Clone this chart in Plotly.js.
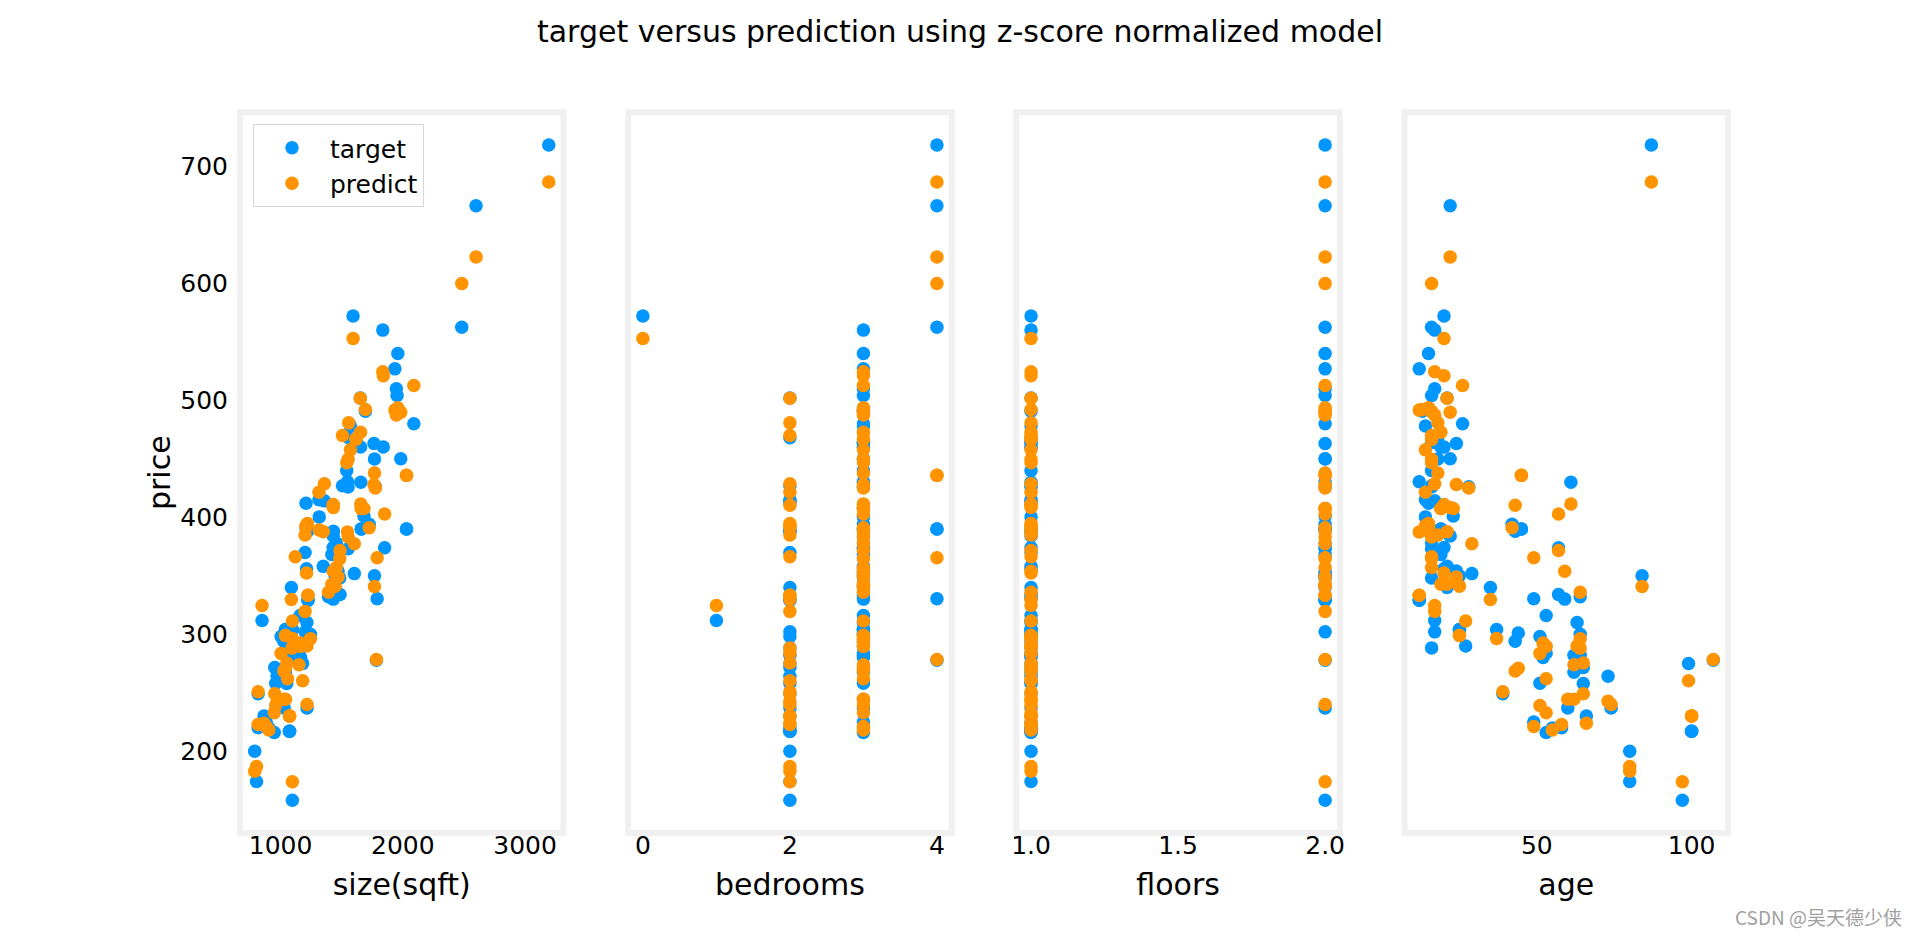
<!DOCTYPE html>
<html>
<head>
<meta charset="utf-8">
<script src="https://cdn.plot.ly/plotly-3.0.1.min.js"></script>
<style>html,body{margin:0;padding:0;background:#fff;}#chart{width:1920px;height:936px;}</style>
</head>
<body>
<div id="chart"></div>
<script>
const size = [952,1244,1947,1725,1959,1314,864,1836,1026,3194,
788,1200,1557,1430,1220,1092,848,1682,1768,1040,
1652,1088,1316,1593,972,1097,1004,904,1694,1073,
1419,1164,1935,1216,2482,1200,1840,1851,1660,1096,
1775,2030,1784,1073,1552,1953,1224,1616,816,1349,
1571,1486,1506,1097,1764,1208,1470,1768,1654,1029,
1120,1150,816,1040,1392,1603,1215,1073,2599,1431,
2090,1790,1484,1040,1431,1159,1547,1983,1056,1180,
1358,960,1456,1446,1208,1553,882,2030,1040,1616,
803,1430,1656,1541,948,1224,1432,1660,1212,1050];
const bedrooms = [2,3,3,3,3,2,2,3,3,4,
2,2,2,3,2,2,1,3,3,3,
2,2,3,0,2,3,2,3,3,2,
3,3,3,2,4,2,3,3,3,2,
3,4,4,2,3,3,2,3,2,3,
3,3,2,3,3,2,3,3,3,3,
2,3,2,3,3,3,3,2,4,3,
3,4,3,3,3,3,3,3,3,2,
2,3,3,3,2,3,3,4,3,3,
2,3,3,3,3,2,2,3,3,2];
const floors = [1,1,2,2,2,1,1,1,1,2,
1,2,1,1,1,1,1,2,2,1,
1,1,1,1,1,1,1,1,1,1,
2,1,2,2,2,1,1,2,2,2,
2,2,2,1,1,2,2,1,1,1,
1,1,1,1,2,1,2,2,1,1,
1,1,1,1,1,2,1,1,2,1,
2,2,2,1,1,1,2,2,1,1,
1,1,2,2,1,2,1,2,1,1,
1,2,1,1,1,2,1,2,1,1];
const age = [65,64,17,42,15,14,66,17,43,87,
80,17,18,20,15,64,17,23,18,44,
21,35,14,20,73,37,51,55,13,100,
19,52,12,74,16,18,20,57,19,97,
28,45,107,100,16,16,12,16,58,21,
14,57,16,27,24,14,24,84,19,60,
16,62,39,25,64,29,63,100,22,59,
26,49,16,25,22,53,12,22,53,99,
17,51,16,25,15,16,49,45,62,16,
80,21,61,16,53,12,43,19,20,65];
const target = [271.5,300,509.8,394,540,415,230,560,294,718.2,
200,302,468,374.2,388,282,311.8,401,449.8,301,
502,340,400.3,572,264,304,298,219.8,490.7,216.96,
368.2,280,526.87,237,562.4,369.8,460,374,390,158,
426,390,277.8,216.96,425.8,504,329,464,220,358,
478,334,426.98,290,463,390.8,354,350,460,237,
288.3,282,249,304,332,351.8,310,216.96,666.3,330,
480,330.3,348,304,384,316,430.4,450,284,275,
414,258,378,350,412,373,225,390,267.4,464,
174,340,430,440,216,329,388,390,356,257.8];
const predict = [249.0,296.2,487.4,391.0,493.6,421.3,223.9,524.4,268.5,686.6,
182.9,319.5,480.7,410.9,394.6,288.1,324.5,407.4,437.9,270.8,
501.8,329.7,389.1,552.9,242.6,296.4,283.6,218.1,492.1,230.0,
342.7,292.4,491.6,239.9,599.9,384.8,521.0,402.8,407.4,173.8,
425.1,435.8,278.4,230.0,449.6,490.5,333.3,466.8,222.8,387.7,
457.6,371.5,469.9,311.2,428.0,392.9,349.0,340.7,472.6,244.3,
366.3,273.9,250.8,298.8,335.9,377.4,289.9,230.0,622.5,353.8,
512.6,365.4,364.6,298.8,408.3,289.6,387.4,489.8,261.9,260.2,
428.7,239.0,357.0,341.1,391.4,383.1,221.0,435.8,244.3,466.8,
186.9,342.7,411.3,446.6,232.9,333.3,410.3,407.4,352.4,275.3];

const featureNames = ["size(sqft)", "bedrooms", "floors", "age"];
const features = [size, bedrooms, floors, age];
const xTickVals = [[1000, 2000, 3000], [0, 2, 4], [1.0, 1.5, 2.0], [50, 100]];
const xTickText = [["1000", "2000", "3000"], ["0", "2", "4"], ["1.0", "1.5", "2.0"], ["50", "100"]];
const yTickVals = [200, 300, 400, 500, 600, 700];
const yLabel = "price";
const seriesNames = ["target", "predict"];
const titleText = "target versus prediction using z-score normalized model";
const watermark = "CSDN @吴天德少侠";

const BLUE = "#0096ff", ORANGE = "#ff9300";
const FONT = "DejaVu Sans, Verdana, sans-serif";
const TICK = 25;

function padRange(arrs) {
  let lo = Infinity, hi = -Infinity;
  arrs.forEach(a => a.forEach(v => { if (v < lo) lo = v; if (v > hi) hi = v; }));
  const m = (hi - lo) * 0.05;
  return [lo - m, hi + m];
}

const W = 0.775 / 4.6, G = W * 0.2;
const traces = [];
const layout = {
  width: 1920, height: 936,
  margin: {l: 0, r: 0, t: 0, b: 0},
  paper_bgcolor: "#fff", plot_bgcolor: "#fff",
  font: {family: FONT, size: TICK, color: "#000"},
  showlegend: true,
  hovermode: false,
  title: {text: titleText, font: {family: FONT, size: 30, color: "#000"}, x: 0.5, xanchor: "center", y: 1 - 31 / 936, yanchor: "middle", xref: "paper", yref: "paper"},
  legend: {x: 253 / 1920, y: 1 - 124 / 936, xanchor: "left", yanchor: "top", bgcolor: "rgba(255,255,255,0.8)", bordercolor: "#d6d6d6", borderwidth: 1, font: {family: FONT, size: 25, color: "#000"}, itemwidth: 66, tracegroupgap: 0},
  shapes: [],
  annotations: [{text: watermark, xref: "paper", yref: "paper", x: 1904 / 1920, y: 1 - 916 / 936, xanchor: "right", yanchor: "middle", showarrow: false, font: {family: "Noto Sans CJK SC, sans-serif", size: 19, color: "#a0a0a0"}}],
  yaxis: {
    domain: [0.11, 0.88], anchor: "x", range: padRange([target, predict]),
    tickvals: yTickVals, ticks: "outside", ticklen: 6, tickcolor: "rgba(0,0,0,0)",
    showgrid: false, zeroline: false, showline: false,
    tickfont: {family: FONT, size: TICK, color: "#000"},
    title: {text: yLabel, font: {family: FONT, size: 30, color: "#000"}, standoff: 0}
  }
};

features.forEach((feat, i) => {
  const xa = i === 0 ? "x" : "x" + (i + 1);
  const key = i === 0 ? "xaxis" : "xaxis" + (i + 1);
  const left = 0.125 + i * (W + G);
  layout[key] = {
    domain: [left, left + W], anchor: "y", range: padRange([feat]),
    tickvals: xTickVals[i], ticktext: xTickText[i],
    ticks: "", ticklabelstandoff: -5,
    showgrid: false, zeroline: false, showline: false,
    tickfont: {family: FONT, size: TICK, color: "#000"},
    title: {text: featureNames[i], font: {family: FONT, size: 30, color: "#000"}, standoff: 14}
  };
  traces.push({x: feat, y: target, xaxis: xa, yaxis: "y", type: "scatter", mode: "markers", name: seriesNames[0], showlegend: i === 0, marker: {color: BLUE, size: 13.5, line: {width: 0}}});
  traces.push({x: feat, y: predict, xaxis: xa, yaxis: "y", type: "scatter", mode: "markers", name: seriesNames[1], showlegend: i === 0, marker: {color: ORANGE, size: 13.5, line: {width: 0}}});
  layout.shapes.push({type: "rect", xref: xa + " domain", yref: "y domain", x0: 0, x1: 1, y0: 0, y1: 1, line: {color: "#f0f0f0", width: 6}, fillcolor: "rgba(0,0,0,0)", layer: "above"});
});

Plotly.newPlot("chart", traces, layout, {displayModeBar: false, staticPlot: true});
</script>
</body>
</html>
